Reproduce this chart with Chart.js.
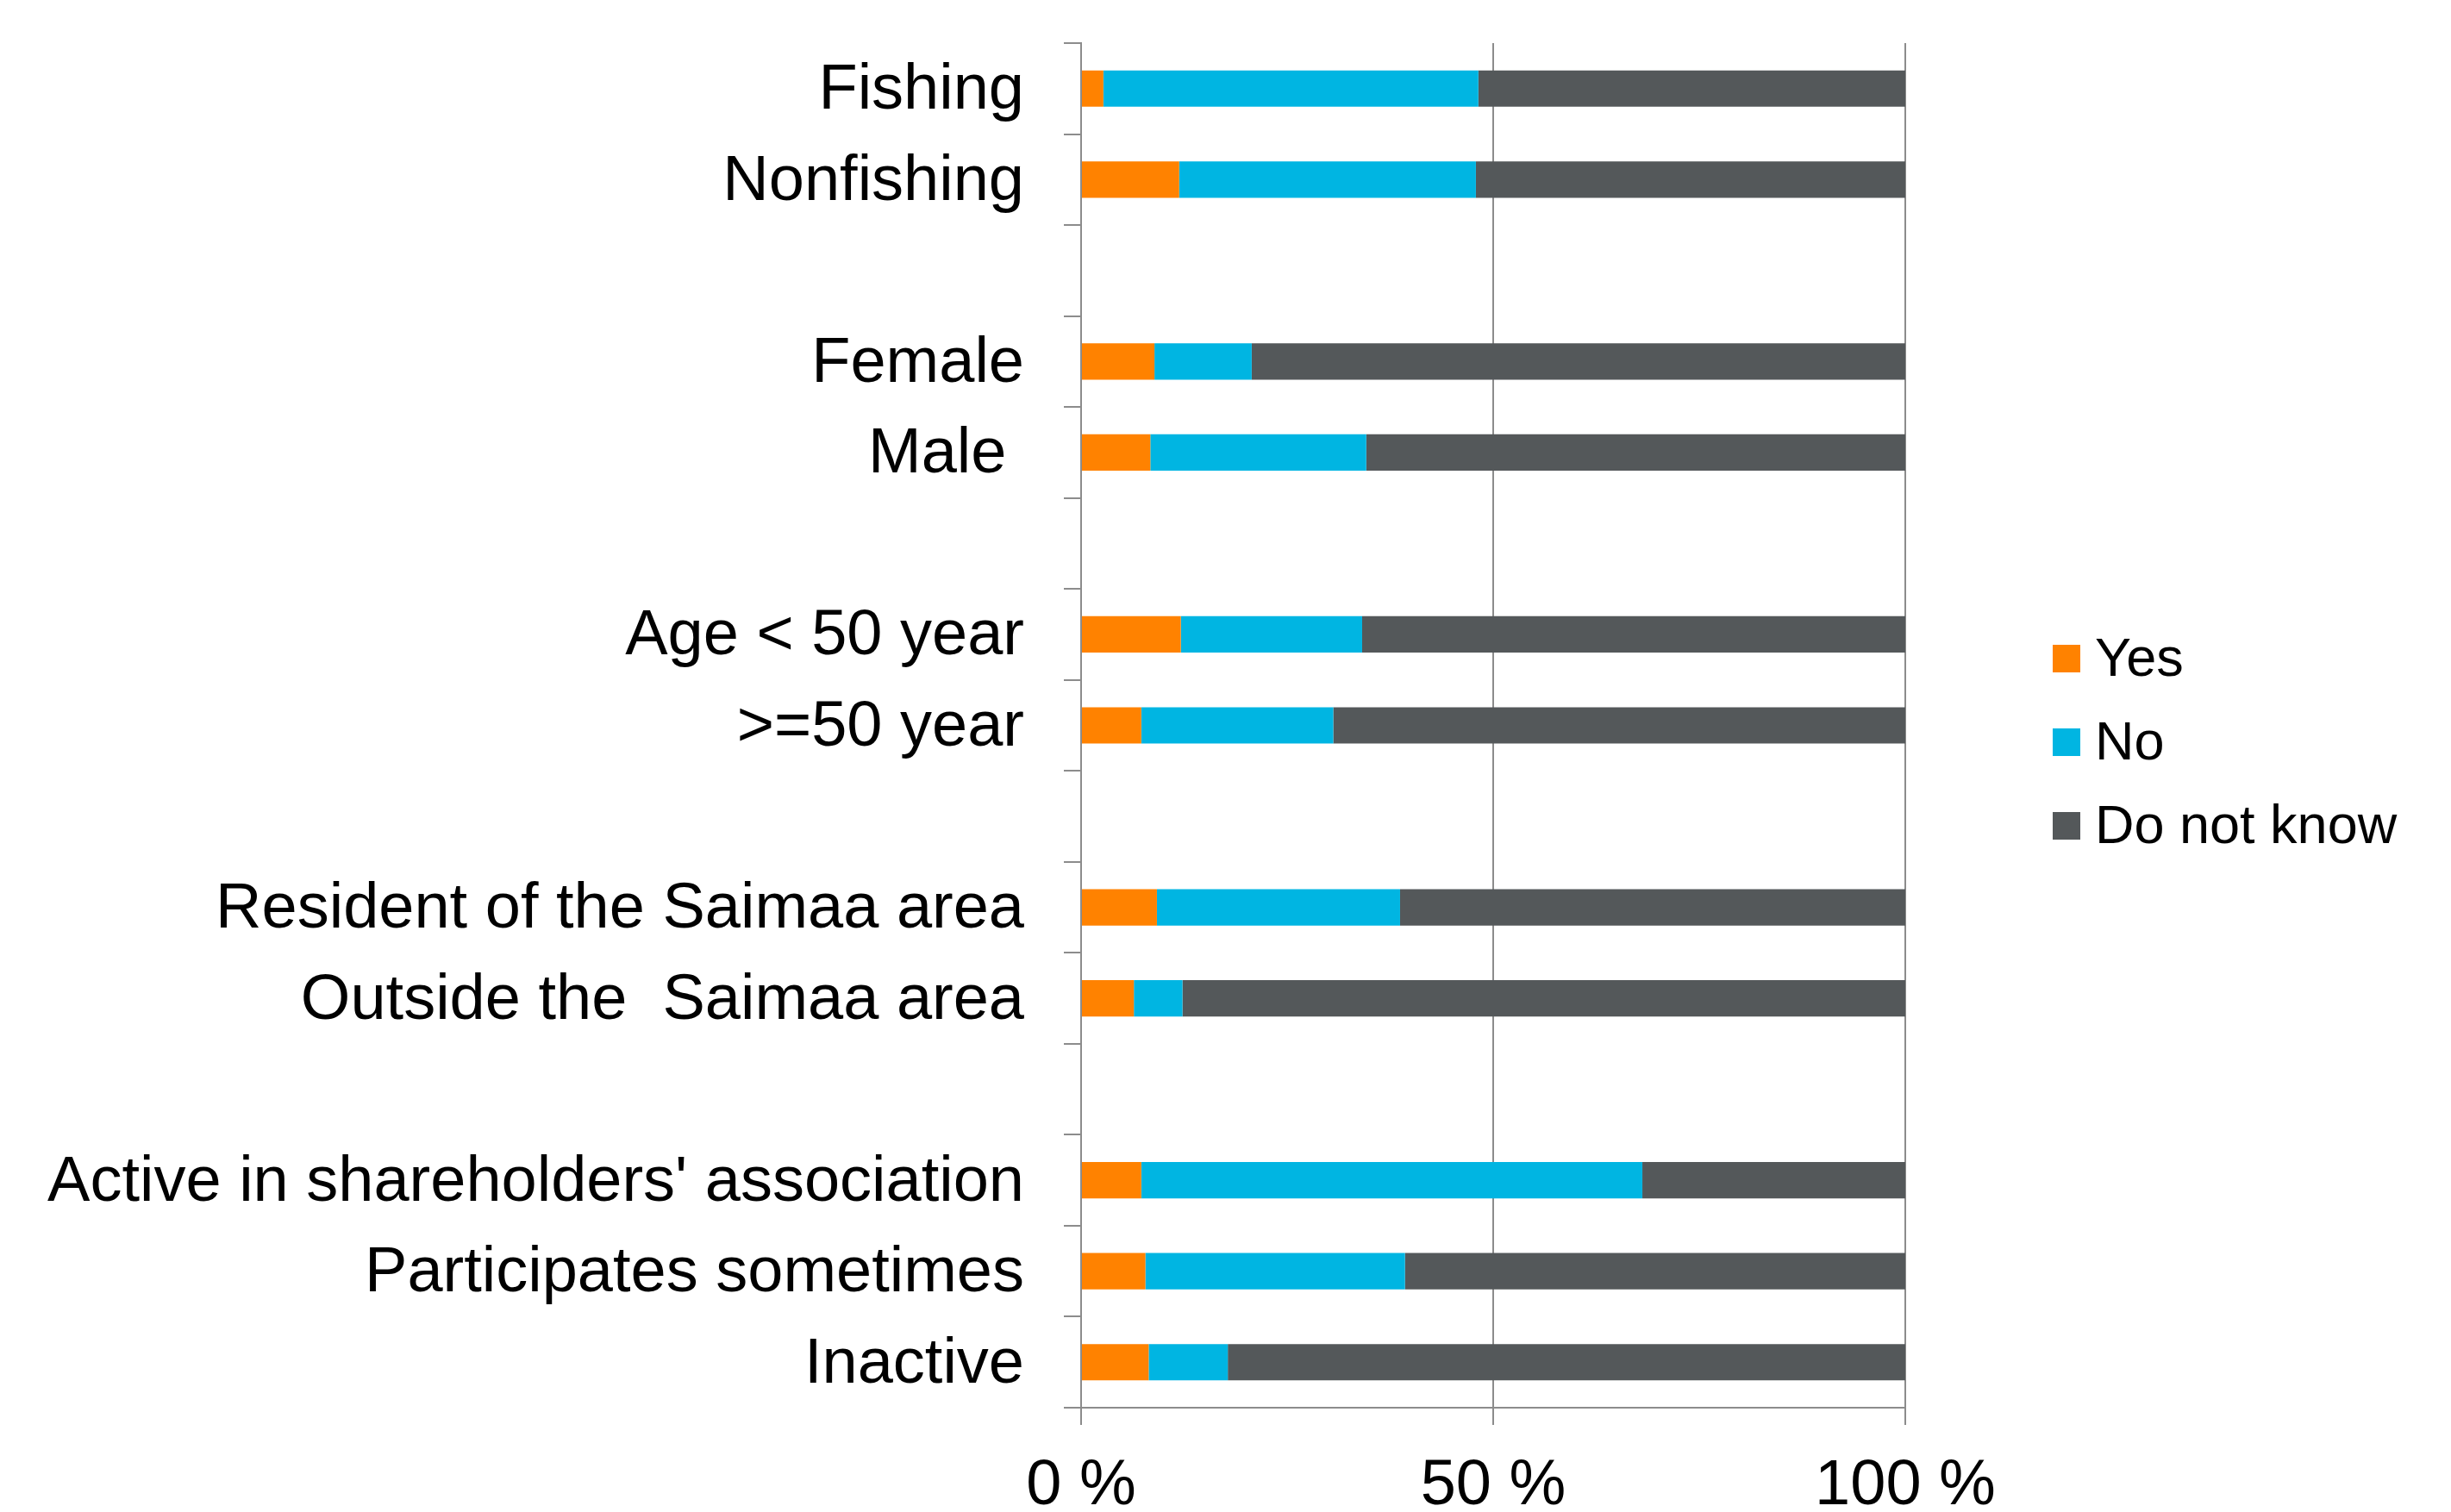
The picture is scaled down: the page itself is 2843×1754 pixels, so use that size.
<!DOCTYPE html>
<html>
<head>
<meta charset="utf-8">
<title>Survey answers by group</title>
<script src="https://cdn.jsdelivr.net/npm/chart.js@4/dist/chart.umd.min.js"></script>
<style>
  html, body { margin: 0; padding: 0; background: #fff; }
  canvas { display: block; }
</style>
</head>
<body>
<canvas id="chart" width="2843" height="1754"></canvas>
<script>
// Stacked 100 % bars, one row per respondent group, blank rows separate the groups.

const categories = [
  "Fishing", "Nonfishing", "",
  "Female", "Male ", "",
  "Age < 50 year", ">=50 year", "",
  "Resident of the Saimaa area", "Outside the  Saimaa area", "",
  "Active in shareholders' association", "Participates sometimes", "Inactive"
];

const seriesNames = ["Yes", "No", "Do not know"];

// share of answers, percent
const yesValues   = [2.7, 11.9, null, 8.9, 8.4, null, 12.1, 7.3, null, 9.2, 6.4, null, 7.3, 7.8, 8.2];
const noValues    = [45.5, 36.0, null, 11.8, 26.2, null, 22.0, 23.3, null, 29.5, 5.9, null, 60.8, 31.5, 9.6];
const dontKnowValues = [51.8, 52.1, null, 79.3, 65.4, null, 65.9, 69.4, null, 61.3, 87.7, null, 31.9, 60.7, 82.2];

const xTicks = [0, 50, 100];

const COLOURS   = ["#FF8200", "#00B5E2", "#54585A"];
const AXIS_GREY = "#8c8c8c";
const FONT      = "'Liberation Sans', Arial, sans-serif";

// plot area inside the 2843x1754 canvas
const AREA = { left: 1254, right: 2210, top: 50, bottom: 1633 };
const W = 2843, H = 1754;

// ─── Legend, drawn to the right of the plot ─────────────────────────────────

const sideLegend = {
  id: "sideLegend",
  afterDraw(chart) {
    const ctx = chart.ctx;
    const boxX = 2381, box = 32, textX = 2430;
    const rows = [764, 861, 958];
    ctx.save();
    ctx.font = "63px " + FONT;
    ctx.textAlign = "left";
    ctx.textBaseline = "middle";
    chart.data.datasets.forEach((ds, i) => {
      ctx.fillStyle = ds.backgroundColor;
      ctx.fillRect(boxX, rows[i] - box / 2, box, box);
      ctx.fillStyle = "#000";
      ctx.fillText(ds.label, textX, rows[i] + 3);
    });
    ctx.restore();
  },
};

new Chart(document.getElementById("chart"), {
  type: "bar",
  data: {
    labels: categories,
    datasets: [yesValues, noValues, dontKnowValues].map((values, i) => ({
      label: seriesNames[i],
      data: values,
      backgroundColor: COLOURS[i],
      borderWidth: 0,
      categoryPercentage: 1.0,
      barPercentage: 0.4,
    })),
  },
  options: {
    indexAxis: "y",
    responsive: false,
    animation: false,
    devicePixelRatio: 1,
    layout: { padding: { left: 0, top: AREA.top, right: W - AREA.right, bottom: 0 } },
    plugins: {
      legend: { display: false },
      tooltip: { enabled: false },
    },
    scales: {
      x: {
        stacked: true,
        min: 0,
        max: 100,
        afterBuildTicks: (scale) => { scale.ticks = xTicks.map((v) => ({ value: v })); },
        afterFit: (scale) => {
          scale.height = H - AREA.bottom;
          scale.paddingLeft = 0;
          scale.paddingRight = 0;
        },
        ticks: {
          callback: (v) => v + " %",
          color: "#000",
          font: { family: FONT, size: 74 },
          padding: 27,
          maxRotation: 0,
        },
        grid: { color: AXIS_GREY, lineWidth: 2, tickLength: 20, drawTicks: true },
        border: { display: true, color: AXIS_GREY, width: 2 },
      },
      y: {
        stacked: true,
        afterFit: (scale) => {
          scale.width = AREA.left;
          scale.paddingTop = 0;
          scale.paddingBottom = 0;
        },
        ticks: {
          color: "#000",
          font: { family: FONT, size: 74 },
          padding: 46,
          labelOffset: 3,
          autoSkip: false,
        },
        grid: {
          offset: true,
          drawOnChartArea: false,
          drawTicks: true,
          tickLength: 20,
          color: AXIS_GREY,
          lineWidth: 2,
        },
        border: { display: true, color: AXIS_GREY, width: 2 },
      },
    },
  },
  plugins: [sideLegend],
});
</script>
</body>
</html>
